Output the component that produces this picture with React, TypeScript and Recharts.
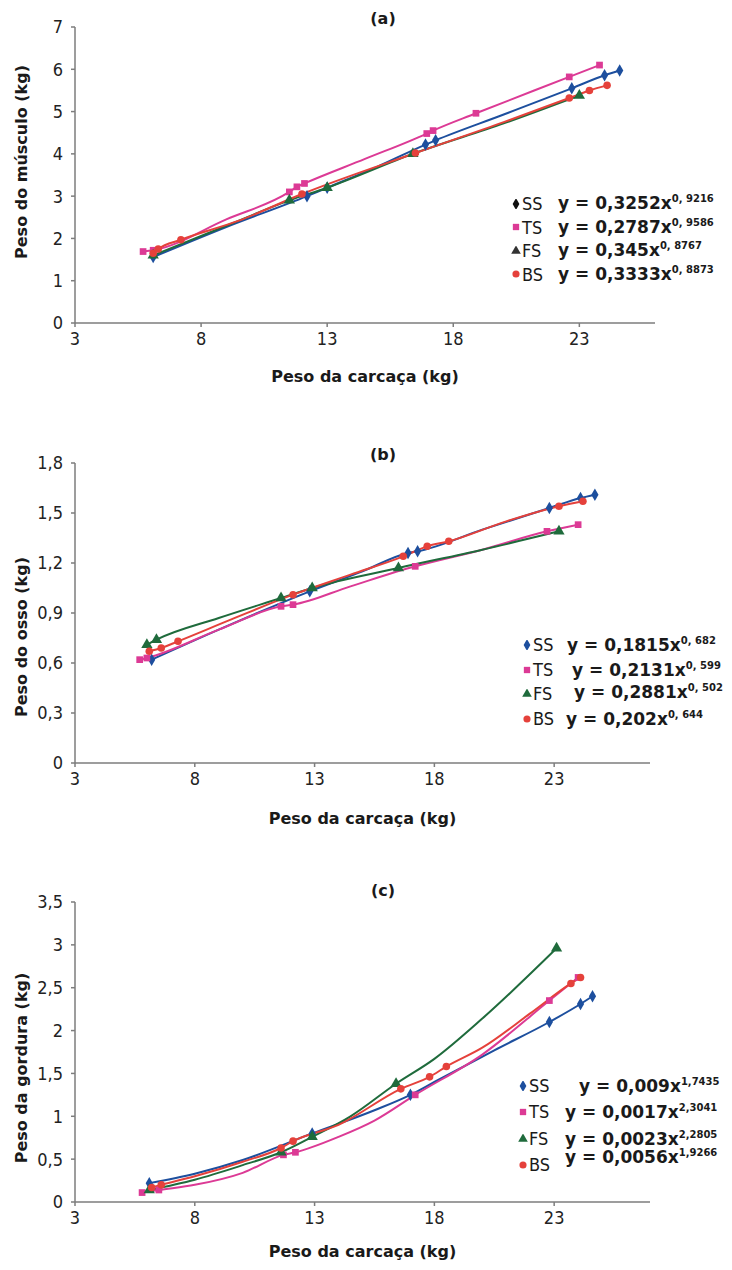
import React from "react";
import { LineChart, Line, XAxis, YAxis, Legend, Label, Symbols } from "recharts";

// [carcaça, peso, marcador?] — a third value of 0 means the point only shapes the line
type Pt = [number, number, number?];

const TICK_FONT = "'DejaVu Sans Condensed', 'DejaVu Sans', sans-serif";
const BOLD_FONT = "'DejaVu Sans', Verdana, sans-serif";

const SERIES_NAMES = ["SS", "TS", "FS", "BS"];
const SERIES_COLORS = ["#1d4f9e", "#dc3a95", "#1f6b3c", "#e5413b"];
const SERIES_SHAPES = ["diamond", "square", "triangle", "circle"] as const;

const X_TICKS = [3, 8, 13, 18, 23];

// (a) peso do músculo x peso da carcaça
const musculoSS: Pt[] = [[6.1, 1.56], [9, 2.27, 0], [12.2, 3.0], [13.0, 3.2], [15, 3.7, 0], [16.9, 4.22], [17.3, 4.32], [20, 4.93, 0], [22.7, 5.55], [24.0, 5.86], [24.6, 5.97]];
const musculoTS: Pt[] = [[5.7, 1.69], [6.1, 1.72], [9, 2.45, 0], [11.5, 3.1], [11.8, 3.22], [12.1, 3.3], [14.5, 3.88, 0], [16.95, 4.48], [17.2, 4.55], [18.9, 4.96], [22.6, 5.82], [23.8, 6.1]];
const musculoFS: Pt[] = [[6.1, 1.6], [9, 2.3, 0], [11.5, 2.9], [13.0, 3.2], [16.4, 4.0], [20, 4.72, 0], [23.0, 5.38]];
const musculoBS: Pt[] = [[6.1, 1.65], [6.3, 1.75], [7.2, 1.97], [9.5, 2.42, 0], [12.0, 3.05], [16.5, 4.02], [20, 4.75, 0], [22.6, 5.32], [23.4, 5.5], [24.1, 5.62]];
const musculoYTicks = [0, 1, 2, 3, 4, 5, 6, 7];
const musculoYLabels = ["0", "1", "2", "3", "4", "5", "6", "7"];
const musculoEq = ["y = 0,3252x", "y = 0,2787x", "y = 0,345x", "y = 0,3333x"];
const musculoExp = ["0, 9216", "0, 9586", "0, 8767", "0, 8873"];

// (b) peso do osso
const ossoSS: Pt[] = [[6.2, 0.62], [9, 0.8, 0], [12.8, 1.03], [15, 1.15, 0], [16.9, 1.26], [17.3, 1.27], [20, 1.4, 0], [22.8, 1.53], [24.1, 1.59], [24.7, 1.61]];
const ossoTS: Pt[] = [[5.7, 0.62], [6.0, 0.63], [9, 0.8, 0], [11.6, 0.94], [12.1, 0.95], [14.5, 1.06, 0], [17.2, 1.18], [20, 1.28, 0], [22.7, 1.39], [24.0, 1.43]];
const ossoFS: Pt[] = [[6.0, 0.71], [6.4, 0.74], [9, 0.87, 0], [11.6, 0.99], [12.9, 1.05], [16.5, 1.17], [20, 1.28, 0], [23.2, 1.39]];
const ossoBS: Pt[] = [[6.1, 0.67], [6.6, 0.69], [7.3, 0.73], [9.5, 0.86, 0], [12.1, 1.01], [14.5, 1.13, 0], [16.7, 1.24], [17.7, 1.3], [18.6, 1.33], [21, 1.45, 0], [23.2, 1.54], [24.2, 1.57]];
const ossoYTicks = [0, 0.3, 0.6, 0.9, 1.2, 1.5, 1.8];
const ossoYLabels = ["0", "0,3", "0,6", "0,9", "1,2", "1,5", "1,8"];
const ossoEq = ["y = 0,1815x", "y = 0,2131x", "y = 0,2881x", "y = 0,202x"];
const ossoExp = ["0, 682", "0, 599", "0, 502", "0, 644"];

// (c) peso da gordura
const gorduraSS: Pt[] = [[6.1, 0.22], [8, 0.33, 0], [10, 0.49, 0], [12.9, 0.8], [15.5, 1.07, 0], [17.0, 1.25], [18, 1.4, 0], [20.5, 1.77, 0], [22.8, 2.1], [24.1, 2.31], [24.6, 2.4]];
const gorduraTS: Pt[] = [[5.8, 0.11], [6.5, 0.14], [8, 0.2, 0], [10, 0.34, 0], [11.7, 0.55], [12.2, 0.58], [14, 0.76, 0], [15.5, 0.95, 0], [17.2, 1.25], [20, 1.72, 0], [22.8, 2.35], [24.0, 2.62]];
const gorduraFS: Pt[] = [[6.1, 0.14], [8, 0.26, 0], [10, 0.43, 0], [11.6, 0.58], [12.9, 0.76], [14.5, 1.0, 0], [16.4, 1.38], [18, 1.67, 0], [20, 2.14, 0], [23.1, 2.96]];
const gorduraBS: Pt[] = [[6.2, 0.17], [6.6, 0.2], [8, 0.3, 0], [10, 0.47, 0], [11.6, 0.63], [12.1, 0.71], [14, 0.9, 0], [16.6, 1.32], [17.8, 1.46], [18.5, 1.58], [20, 1.8, 0], [22, 2.2, 0], [23.7, 2.55], [24.1, 2.62]];
const gorduraYTicks = [0, 0.5, 1, 1.5, 2, 2.5, 3, 3.5];
const gorduraYLabels = ["0", "0,5", "1", "1,5", "2", "2,5", "3", "3,5"];
const gorduraEq = ["y = 0,009x", "y = 0,0017x", "y = 0,0023x", "y = 0,0056x"];
const gorduraExp = ["1,7435", "2,3041", "2,2805", "1,9266"];

type Panel = {
  letter: string;
  yTitle: string;
  top: number;
  height: number;
  margin: { top: number; right: number; bottom: number; left: number };
  xMax: number;
  yTicks: number[];
  yLabels: string[];
  series: Pt[][];
  eqs: string[];
  exps: string[];
  legendMarkers: string[];
  legendLeft: number;
  legendTop: number;
  rowH: number;
  eqLeft: number[];
  eqRaise: number[];
  titleY: number;
  xTitleOffset: number;
  yTitleY: number;
};

const panels: Panel[] = [
  {
    letter: "(a)",
    yTitle: "Peso do músculo (kg)",
    top: 0,
    height: 400,
    margin: { top: 27, right: 77, bottom: 47, left: 0 },
    xMax: 26,
    yTicks: musculoYTicks,
    yLabels: musculoYLabels,
    series: [musculoSS, musculoTS, musculoFS, musculoBS],
    eqs: musculoEq,
    exps: musculoExp,
    legendMarkers: ["#111", SERIES_COLORS[1], "#333", SERIES_COLORS[3]],
    legendLeft: 511,
    legendTop: 192,
    rowH: 23.5,
    eqLeft: [47, 47, 47, 47],
    eqRaise: [0, 0, 0, 0],
    titleY: 18,
    xTitleOffset: 18,
    yTitleY: 162,
  },
  {
    letter: "(b)",
    yTitle: "Peso do osso (kg)",
    top: 420,
    height: 420,
    margin: { top: 43, right: 82, bottom: 47, left: 0 },
    xMax: 27,
    yTicks: ossoYTicks,
    yLabels: ossoYLabels,
    series: [ossoSS, ossoTS, ossoFS, ossoBS],
    eqs: ossoEq,
    exps: ossoExp,
    legendMarkers: SERIES_COLORS,
    legendLeft: 522,
    legendTop: 213,
    rowH: 24.5,
    eqLeft: [45, 50, 52, 44],
    eqRaise: [0, 0, 2, 0],
    titleY: 34,
    xTitleOffset: 20,
    yTitleY: 217,
  },
  {
    letter: "(c)",
    yTitle: "Peso da gordura (kg)",
    top: 850,
    height: 420,
    margin: { top: 52, right: 82, bottom: 38, left: 0 },
    xMax: 27,
    yTicks: gorduraYTicks,
    yLabels: gorduraYLabels,
    series: [gorduraSS, gorduraTS, gorduraFS, gorduraBS],
    eqs: gorduraEq,
    exps: gorduraExp,
    legendMarkers: SERIES_COLORS,
    legendLeft: 518,
    legendTop: 223,
    rowH: 26.3,
    eqLeft: [61, 47, 47, 47],
    eqRaise: [0, 0, 0, 8],
    titleY: 40,
    xTitleOffset: 14,
    yTitleY: 218,
  },
];

const toRows = (pts: Pt[]) => pts.map(([x, y, m]) => ({ x, y, marker: m !== 0 }));

const makeDot = (shape: (typeof SERIES_SHAPES)[number], color: string) => (props: any) => {
  const { cx, cy, index, payload } = props;
  if (cx == null || cy == null || !payload?.marker) return <g key={index} />;
  return <Symbols key={index} cx={cx} cy={cy} type={shape} size={shape === "triangle" ? 55 : 45} fill={color} stroke="none" />;
};

function PanelLegend({ p }: { p: Panel }) {
  return (
    <div style={{ position: "relative", width: 210, color: "#1a1a1a" }}>
      {SERIES_NAMES.map((name, i) => (
        <div key={name} style={{ position: "relative", height: p.rowH }}>
          <svg width={10} height={10} style={{ position: "absolute", left: 0, top: p.rowH / 2 - 5 }}>
            <Symbols cx={5} cy={5} type={SERIES_SHAPES[i]} size={40} fill={p.legendMarkers[i]} />
          </svg>
          <span
            style={{
              position: "absolute",
              left: 11,
              top: 0,
              lineHeight: `${p.rowH}px`,
              fontFamily: TICK_FONT,
              fontSize: 18,
            }}
          >
            {name}
          </span>
          <span
            style={{
              position: "absolute",
              left: p.eqLeft[i],
              top: -p.eqRaise[i],
              lineHeight: `${p.rowH}px`,
              whiteSpace: "nowrap",
              fontFamily: BOLD_FONT,
              fontWeight: 700,
              fontSize: 17,
            }}
          >
            {p.eqs[i]}
            <sup style={{ fontSize: 10, verticalAlign: "7px", lineHeight: 0 }}>{p.exps[i]}</sup>
          </span>
        </div>
      ))}
    </div>
  );
}

function PanelChart({ p }: { p: Panel }) {
  return (
    <div style={{ position: "absolute", left: 0, top: p.top, width: 732, height: p.height }}>
      <LineChart width={732} height={p.height} margin={p.margin}>
        <XAxis
          type="number"
          dataKey="x"
          domain={[3, p.xMax]}
          ticks={X_TICKS}
          allowDuplicatedCategory={false}
          height={30}
          stroke="#7d7d7d"
          strokeWidth={1.5}
          tickSize={4}
          tickMargin={5}
          tick={{ fill: "#222", fontSize: 18, fontFamily: TICK_FONT }}
        >
          <Label
            value="Peso da carcaça (kg)"
            position="bottom"
            offset={p.xTitleOffset}
            style={{ fill: "#1a1a1a", fontSize: 16, fontWeight: 700, fontFamily: BOLD_FONT }}
          />
        </XAxis>
        <YAxis
          type="number"
          dataKey="y"
          domain={[0, p.yTicks[p.yTicks.length - 1]]}
          ticks={p.yTicks}
          tickFormatter={(v: number) => p.yLabels[p.yTicks.indexOf(v)] ?? String(v)}
          width={75}
          stroke="#7d7d7d"
          strokeWidth={1.5}
          tickSize={4}
          tickMargin={8}
          tick={{ fill: "#222", fontSize: 18, fontFamily: TICK_FONT }}
        >
          <Label
            content={() => (
              <text
                x={21}
                y={p.yTitleY}
                transform={`rotate(-90 21 ${p.yTitleY})`}
                textAnchor="middle"
                dominantBaseline="central"
                style={{ fill: "#1a1a1a", fontSize: 16, fontWeight: 700, fontFamily: BOLD_FONT }}
              >
                {p.yTitle}
              </text>
            )}
          />
        </YAxis>
        {p.series.map((pts, i) => (
          <Line
            key={SERIES_NAMES[i]}
            name={SERIES_NAMES[i]}
            data={toRows(pts)}
            dataKey="y"
            type="monotone"
            stroke={SERIES_COLORS[i]}
            strokeWidth={2}
            dot={makeDot(SERIES_SHAPES[i], SERIES_COLORS[i])}
            activeDot={false}
            isAnimationActive={false}
          />
        ))}
        <Legend
          layout="horizontal"
          verticalAlign="middle"
          align="center"
          content={() => <PanelLegend p={p} />}
          wrapperStyle={{ left: p.legendLeft, top: p.legendTop, width: 210 }}
        />
      </LineChart>
      <div
        style={{
          position: "absolute",
          left: 383,
          top: p.titleY,
          transform: "translate(-50%, -50%)",
          fontFamily: BOLD_FONT,
          fontWeight: 700,
          fontSize: 16,
          color: "#1a1a1a",
        }}
      >
        {p.letter}
      </div>
    </div>
  );
}

export default function App() {
  return (
    <div style={{ position: "relative", width: 732, height: 1270, background: "#fff", overflow: "hidden" }}>
      <style>{`body { margin: 0; }`}</style>
      {panels.map((p) => (
        <PanelChart key={p.letter} p={p} />
      ))}
    </div>
  );
}
